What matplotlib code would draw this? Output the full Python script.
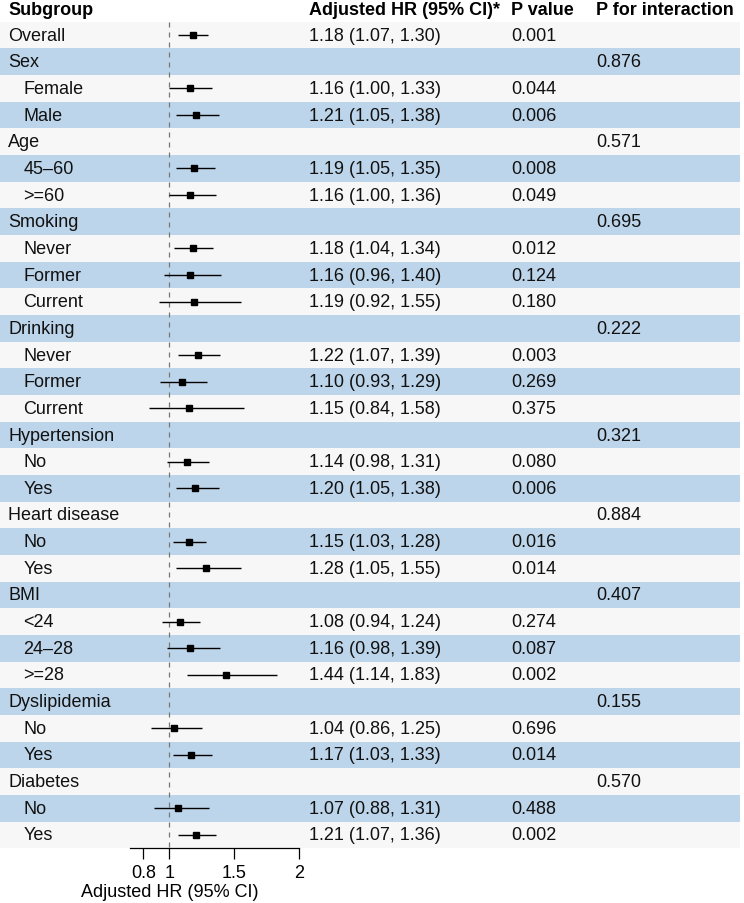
import matplotlib
matplotlib.use("Agg")
import matplotlib.pyplot as plt
import matplotlib.transforms as mtransforms

plt.rcParams['font.family'] = ['Liberation Sans', 'DejaVu Sans']

# rows of the forest table (None = group header row)
labels = ["Overall", "Sex", "Female", "Male", "Age", "45\u201360", ">=60",
          "Smoking", "Never", "Former", "Current",
          "Drinking", "Never", "Former", "Current",
          "Hypertension", "No", "Yes",
          "Heart disease", "No", "Yes",
          "BMI", "<24", "24\u201328", ">=28",
          "Dyslipidemia", "No", "Yes",
          "Diabetes", "No", "Yes"]
indent = [0, 0, 1, 1, 0, 1, 1, 0, 1, 1, 1, 0, 1, 1, 1, 0, 1, 1, 0, 1, 1,
          0, 1, 1, 1, 0, 1, 1, 0, 1, 1]
hr = [1.18, None, 1.16, 1.21, None, 1.19, 1.16, None, 1.18, 1.16, 1.19,
      None, 1.22, 1.10, 1.15, None, 1.14, 1.20, None, 1.15, 1.28,
      None, 1.08, 1.16, 1.44, None, 1.04, 1.17, None, 1.07, 1.21]
lo = [1.07, None, 1.00, 1.05, None, 1.05, 1.00, None, 1.04, 0.96, 0.92,
      None, 1.07, 0.93, 0.84, None, 0.98, 1.05, None, 1.03, 1.05,
      None, 0.94, 0.98, 1.14, None, 0.86, 1.03, None, 0.88, 1.07]
hi = [1.30, None, 1.33, 1.38, None, 1.35, 1.36, None, 1.34, 1.40, 1.55,
      None, 1.39, 1.29, 1.58, None, 1.31, 1.38, None, 1.28, 1.55,
      None, 1.24, 1.39, 1.83, None, 1.25, 1.33, None, 1.31, 1.36]
pval = ["0.001", "", "0.044", "0.006", "", "0.008", "0.049", "", "0.012",
        "0.124", "0.180", "", "0.003", "0.269", "0.375", "", "0.080", "0.006",
        "", "0.016", "0.014", "", "0.274", "0.087", "0.002", "", "0.696",
        "0.014", "", "0.488", "0.002"]
pint = ["", "0.876", "", "", "0.571", "", "", "0.695", "", "", "",
        "0.222", "", "", "", "0.321", "", "", "0.884", "", "",
        "0.407", "", "", "", "0.155", "", "", "0.570", "", ""]
headers = ["Subgroup", "Adjusted HR (95% CI)*", "P value", "P for interaction"]
xticks = [0.8, 1, 1.5, 2]
xtick_labels = ["0.8", "1", "1.5", "2"]

W, H = 744, 904
fig = plt.figure(figsize=(W / 100, H / 100), dpi=100)
fs = 13

# axes covers whole width, rows between y=22.7 and y=849.3 px
top_px, bot_px = 22.7, 849.3
ax = fig.add_axes([0, (H - bot_px) / H, 1, (bot_px - top_px) / H])
x1_px, unit_px = 169.3, 129.5
ax.set_xlim(1 - x1_px / unit_px, 1 + (W - x1_px) / unit_px)
n = len(labels)
ax.set_ylim(n - 0.5, -0.5)

for i in range(n):
    c = "#BDD5EA" if i % 2 == 1 else "#F7F7F7"
    ax.axhspan(i - 0.5, i + 0.5, xmin=0, xmax=740 / W, color=c, lw=0, zorder=0)

ax.vlines(1, -0.5, n - 0.5, colors="#777777", linestyles=(0, (4, 4)), lw=0.9, zorder=1)

tr = mtransforms.blended_transform_factory(ax.transAxes, ax.transData)
for i in range(n):
    ax.text((8.3 + 15 * indent[i]) / W, i, labels[i], transform=tr,
            va="center", ha="left", fontsize=fs, color="#111111")
    if hr[i] is not None:
        ax.hlines(i, lo[i], hi[i], color="black", lw=1.0, zorder=2)
        ax.plot(hr[i], i, "s", color="black", ms=5, zorder=3)
        ax.text(309 / W, i, f"{hr[i]:.2f} ({lo[i]:.2f}, {hi[i]:.2f})",
                transform=tr, va="center", ha="left", fontsize=fs, color="#111111")
    ax.text(511 / W, i, pval[i], transform=tr, va="center", ha="left",
            fontsize=fs, color="#111111")
    ax.text(596 / W, i, pint[i], transform=tr, va="center", ha="left",
            fontsize=fs, color="#111111")

for x, h in zip([8.3, 309, 511, 596], headers):
    fig.text(x / W, 1 - 10.5 / H, h, ha="left", va="center",
             fontsize=fs, fontweight="bold")

for s in ["top", "right", "left"]:
    ax.spines[s].set_visible(False)
ax.spines["bottom"].set_bounds(0.7, 2)
ax.spines["bottom"].set_linewidth(0.9)
ax.set_yticks([])
ax.set_xticks(xticks)
ax.set_xticklabels(xtick_labels, fontsize=fs)
ax.tick_params(axis="x", length=8, width=0.9, pad=3)

fig.text(x1_px / W, 1 - 893 / H, "Adjusted HR (95% CI)", ha="center",
         va="center", fontsize=fs)

fig.savefig("out.png", dpi=100)
